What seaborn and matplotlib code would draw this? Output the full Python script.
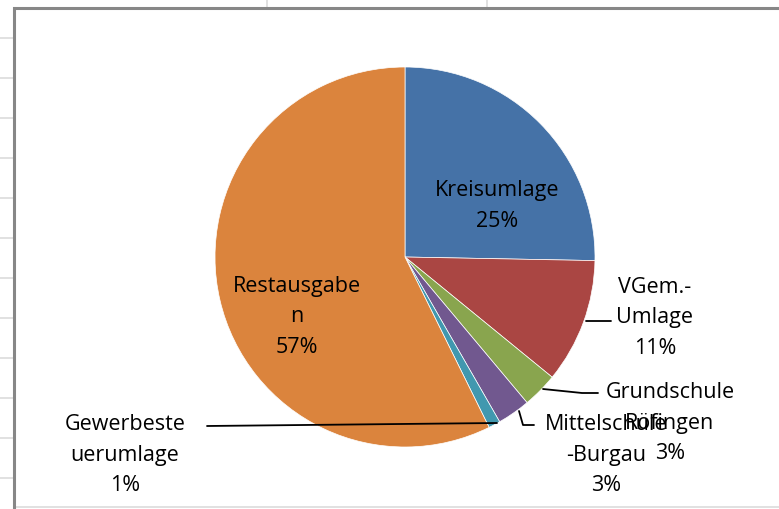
import numpy as np
import matplotlib
matplotlib.use('Agg')
import matplotlib.pyplot as plt
import seaborn as sns

# slice data (clockwise from 12 o'clock)
labels = ["Kreisumlage", "VGem.-\nUmlage", "Grundschule\nRöfingen",
          "Mittelschule\n-Burgau", "Gewerbeste\nuerumlage", "Restausgabe\nn"]
shares = [25.3, 10.6, 3.0, 2.8, 1.0, 57.3]
colors = ["#4572A7", "#AA4643", "#89A54E", "#71588F", "#4198AF", "#DB843D"]

sns.set_theme(style="white")
plt.rcParams['font.family'] = ['Open Sans', 'DejaVu Sans']

W, H = 779, 509
fig = plt.figure(figsize=(W / 100, H / 100), dpi=100)
ax = fig.add_axes([0, 0, 1, 1])

def py(y):
    # pixel row (from top) -> data y
    return H - y

# spreadsheet grid peeking out around the chart object
grid_c = "#dcdcdc"
for y in range(38, 500, 40):
    ax.plot([0, 14], [py(y), py(y)], color=grid_c, lw=1.2, solid_capstyle='butt')
for x in (267, 487):
    ax.plot([x, x], [py(0), py(8)], color=grid_c, lw=1.2, solid_capstyle='butt')
ax.plot([14, W], [py(507), py(507)], color=grid_c, lw=1.2)

# chart border
ax.plot([W + 2, 14.5, 14.5], [py(8), py(8), py(H + 2)], color="#878787", lw=2.2,
        solid_joinstyle='miter')

cx, cy, r = 405, py(257), 190
pal = sns.color_palette(colors)
wedges, _ = ax.pie(shares, colors=pal, startangle=90, counterclock=False,
                   center=(cx, cy), radius=r, frame=True,
                   wedgeprops=dict(linewidth=0.5, edgecolor='white'))
ax.set_xlim(0, W)
ax.set_ylim(0, H)
ax.set_aspect('equal')
ax.axis('off')

pct = [f"{v:.0f}%" for v in shares]
# label block centres (pixels) and leader lines
label_pos = [(497, 206), (655, 318), (670, 423), (606, 455), (125, 455), (297, 317)]
fs = 15.5
for lab, p, (x, y) in zip(labels, pct, label_pos):
    ax.text(x, py(y), f"{lab}\n{p}", ha='center', va='center', fontsize=fs,
            color='black', linespacing=1.62)

leaders = [
    [(586, 321), (611, 321)],
    [(543, 389), (582, 393), (598, 393)],
    [(519, 411), (523, 425), (534, 425)],
    [(497, 423), (207, 426)],
]
for seg in leaders:
    xs, ys = zip(*seg)
    ax.plot(xs, [py(v) for v in ys], color='black', lw=1.3)

fig.savefig("out.png", dpi=100)
